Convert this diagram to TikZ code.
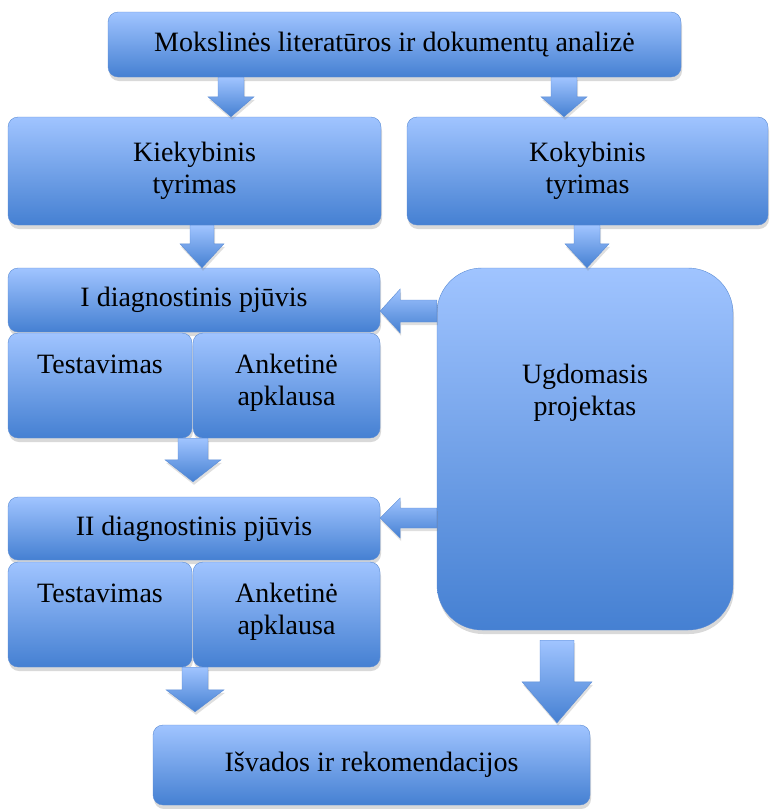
\documentclass[tikz,border=0pt]{standalone}
\usepackage{fontspec}
\setmainfont{Liberation Serif}
\usetikzlibrary{calc,shadows}
\definecolor{boxtop}{HTML}{A0C4FF}
\definecolor{boxbot}{HTML}{4580D2}
\definecolor{edge}{HTML}{5A8BD4}
\newcommand{\downblock}[5]{\path[blockarrow] let \p1=#1,\p2=#2 in (\x1-#3,\y1)--(\x1+#3,\y1)--(\x1+#3,\y2+#5)--(\x1+#4,\y2+#5)--(\x1,\y2)--(\x1-#4,\y2+#5)--(\x1-#3,\y2+#5)--cycle;}
\newcommand{\leftblock}[5]{\path[blockarrow] let \p1=#1,\p2=#2 in (\x1,\y1-#3)--(\x1,\y1+#3)--(\x2+#5,\y1+#3)--(\x2+#5,\y1+#4)--(\x2,\y1)--(\x2+#5,\y1-#4)--(\x2+#5,\y1-#3)--cycle;}

\begin{document}
\begin{tikzpicture}[x=1pt,y=-1pt,
 box/.style={draw=edge,thin,rounded corners=10pt,top color=boxtop,bottom color=boxbot,inner sep=0pt,align=center,font=\fontsize{28}{32}\selectfont,drop shadow={shadow xshift=1pt,shadow yshift=-4pt,opacity=.3}},
 blockarrow/.style={draw=edge,thin,top color=boxtop,bottom color=boxbot,drop shadow={shadow xshift=1pt,shadow yshift=-3pt,opacity=.25}}]
\useasboundingbox (0,0) rectangle (769,809);
\node[box,minimum width=573pt,minimum height=65pt] (top) at (394.5,44.5) {Mokslinės literatūros ir dokumentų analizė};
\node[box,minimum width=373pt,minimum height=108pt] (kiek) at (194.5,171) {Kiekybinis\\tyrimas};
\node[box,minimum width=361pt,minimum height=108pt] (kok) at (587.5,171) {Kokybinis\\tyrimas};
\node[box,minimum width=372pt,minimum height=64pt] (idiag) at (194,300) {I diagnostinis pjūvis};
\node[box] (test1) at (100,385.5) {\parbox[t][105pt][t]{184pt}{\centering\rule{0pt}{40pt}Testavimas}};
\node[box] (ank1) at (286.5,385.5) {\parbox[t][105pt][t]{187pt}{\centering\rule{0pt}{40pt}Anketinė\\apklausa}};
\node[box,rounded corners=45pt] (ugd) at (585,449) {\parbox[t][362pt][t]{296pt}{\centering\rule{0pt}{115pt}Ugdomasis\\projektas}};
\node[box,minimum width=372pt,minimum height=63pt] (iidiag) at (194,528.5) {II diagnostinis pjūvis};
\node[box] (test2) at (100,614.5) {\parbox[t][105pt][t]{184pt}{\centering\rule{0pt}{40pt}Testavimas}};
\node[box] (ank2) at (286.5,614.5) {\parbox[t][105pt][t]{187pt}{\centering\rule{0pt}{40pt}Anketinė\\apklausa}};
\node[box,minimum width=437pt,minimum height=80pt] (isv) at (371.5,765) {Išvados ir rekomendacijos};
\downblock{(top.south -| 231,0)}{(kiek.north -| 231,0)}{13pt}{23pt}{20pt}
\downblock{(top.south -| 564,0)}{(kok.north -| 564,0)}{13pt}{23pt}{20pt}
\downblock{(kiek.south -| 202,0)}{(idiag.north -| 202,0)}{12pt}{22pt}{24pt}
\downblock{(kok.south -| 587,0)}{(ugd.north -| 587,0)}{13pt}{22pt}{24pt}
\leftblock{(ugd.west |- 0,311)}{(idiag.east)}{11pt}{22pt}{20pt}
\leftblock{(ugd.west |- 0,518)}{(iidiag.east |- 0,518)}{10pt}{20pt}{20pt}
\downblock{(test1.south -| 193,0)}{($(iidiag.north -| 193,0)+(0,-15)$)}{15pt}{28pt}{22pt}
\downblock{(test2.south -| 195,0)}{($(isv.north -| 195,0)+(0,-13)$)}{13pt}{29pt}{22pt}
\downblock{($(ugd.south -| 557,0)+(0,10)$)}{($(isv.north -| 557,0)+(0,-2)$)}{17pt}{35pt}{41pt}
\end{tikzpicture}
\end{document}
